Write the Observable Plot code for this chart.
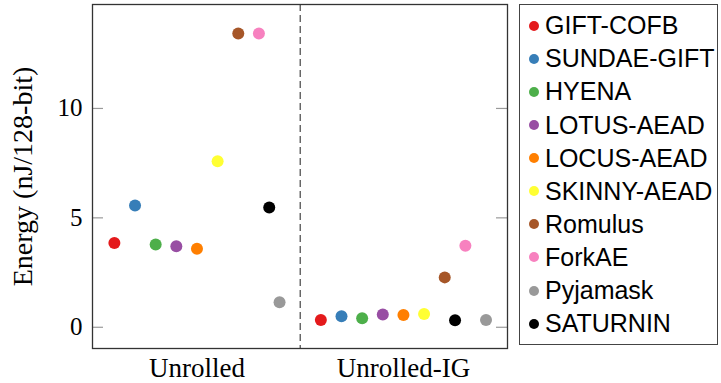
<!DOCTYPE html>
<html>
<head>
<meta charset="utf-8">
<script src="https://cdn.jsdelivr.net/npm/d3@7"></script>
<script src="https://cdn.jsdelivr.net/npm/@observablehq/plot@0.6"></script>
<style>
  html, body { margin: 0; padding: 0; background: #fff; }
  #wrap { position: relative; width: 721px; height: 383px; overflow: hidden; }
  #chart { position: absolute; left: 0; top: 0; }
  #legend {
    position: absolute; left: 519px; top: 4px; width: 199px; height: 341px;
    border: 1px solid #444; box-sizing: border-box;
    font-family: "Liberation Sans", Arial, sans-serif; font-size: 25px; color: #000;
  }
  .item { position: absolute; left: 0; display: flex; align-items: center; white-space: nowrap; }
  .sw { display: inline-block; width: 10px; height: 10px; border-radius: 50%; margin-left: 9px; margin-right: 6px; }
</style>
</head>
<body>
<div id="wrap">
  <div id="chart"></div>
  <div id="legend"></div>
</div>
<script>
// ---- data ----
const groups = ["Unrolled", "Unrolled-IG"];
const schemes = ["GIFT-COFB", "SUNDAE-GIFT", "HYENA", "LOTUS-AEAD", "LOCUS-AEAD",
                 "SKINNY-AEAD", "Romulus", "ForkAE", "Pyjamask", "SATURNIN"];
const colors = ["#e41a1c", "#377eb8", "#4daf4a", "#984ea3", "#ff7f00",
                "#ffff33", "#a65628", "#f781bf", "#999999", "#000000"];
const energyUnrolled   = [3.85, 5.56, 3.78, 3.70, 3.59, 7.59, 13.42, 13.42, 1.14, 5.47];
const energyUnrolledIG = [0.33, 0.50, 0.41, 0.58, 0.56, 0.61, 2.28, 3.73, 0.33, 0.32];
const yTicks = [0, 5, 10];

// ---- layout (dodge slot of each scheme within a group) ----
const slotUnrolled   = [-4, -3, -2, -1, 0, 1, 2, 3, 4, 3.5];
const slotUnrolledIG = [-4, -3, -2, -1, 0, 1, 2, 3, 4, 2.5];
const slotWidth = 0.1;

const rows = [];
[energyUnrolled, energyUnrolledIG].forEach((vals, g) => {
  const slots = g === 0 ? slotUnrolled : slotUnrolledIG;
  vals.forEach((v, i) => rows.push({
    group: g, scheme: schemes[i], color: colors[i], energy: v,
    pos: g + slots[i] * slotWidth
  }));
});

const W = 515, H = 383;
const mL = 92, mR = 8, mT = 4, mB = 35;
const innerW = W - mL - mR;
const tickLen = 11;
const serif = "'Liberation Serif', 'Times New Roman', serif";

const chart = Plot.plot({
  width: W, height: H,
  marginLeft: mL, marginRight: mR, marginTop: mT, marginBottom: mB,
  style: { fontFamily: serif, background: "white", color: "#000" },
  x: { domain: [-0.506, 1.504] },
  y: { domain: [-0.97, 14.75] },
  marks: [
    Plot.axisY({ ticks: yTicks, tickSize: 0, tickPadding: 10, fontSize: 25, label: null }),
    Plot.axisY({ ticks: [], tickSize: 0, fontSize: 28,
      label: "Energy (nJ/128-bit)", labelAnchor: "center", labelArrow: "none",
      labelOffset: 80 }),
    Plot.axisX({ ticks: [0, 1], tickFormat: i => groups[i], tickSize: 0,
      tickPadding: 9, fontSize: 27, label: null }),
    Plot.tickY(yTicks, { y: d => d, stroke: "#9a9a9a", strokeWidth: 1.2, insetRight: innerW - tickLen }),
    Plot.tickY(yTicks, { y: d => d, stroke: "#9a9a9a", strokeWidth: 1.2, insetLeft: innerW - tickLen }),
    Plot.ruleX([(0 + 1) / 2], { stroke: "#444", strokeWidth: 1.2, strokeDasharray: "7,4" }),
    Plot.dot(rows, { x: "pos", y: "energy", fill: "color", r: 6, stroke: "none" }),
    Plot.frame({ stroke: "#333", strokeWidth: 1.3 })
  ]
});
document.getElementById("chart").appendChild(chart);

// ---- legend ----
const legend = document.getElementById("legend");
schemes.forEach((name, k) => {
  const it = document.createElement("div");
  it.className = "item";
  it.style.top = (25.7 - 4 - 1 - 14 + k * 33.1) + "px";
  it.style.height = "28px";
  const sw = document.createElement("span");
  sw.className = "sw";
  sw.style.background = colors[k];
  const tx = document.createElement("span");
  tx.textContent = name;
  it.appendChild(sw); it.appendChild(tx);
  legend.appendChild(it);
});
</script>
</body>
</html>
